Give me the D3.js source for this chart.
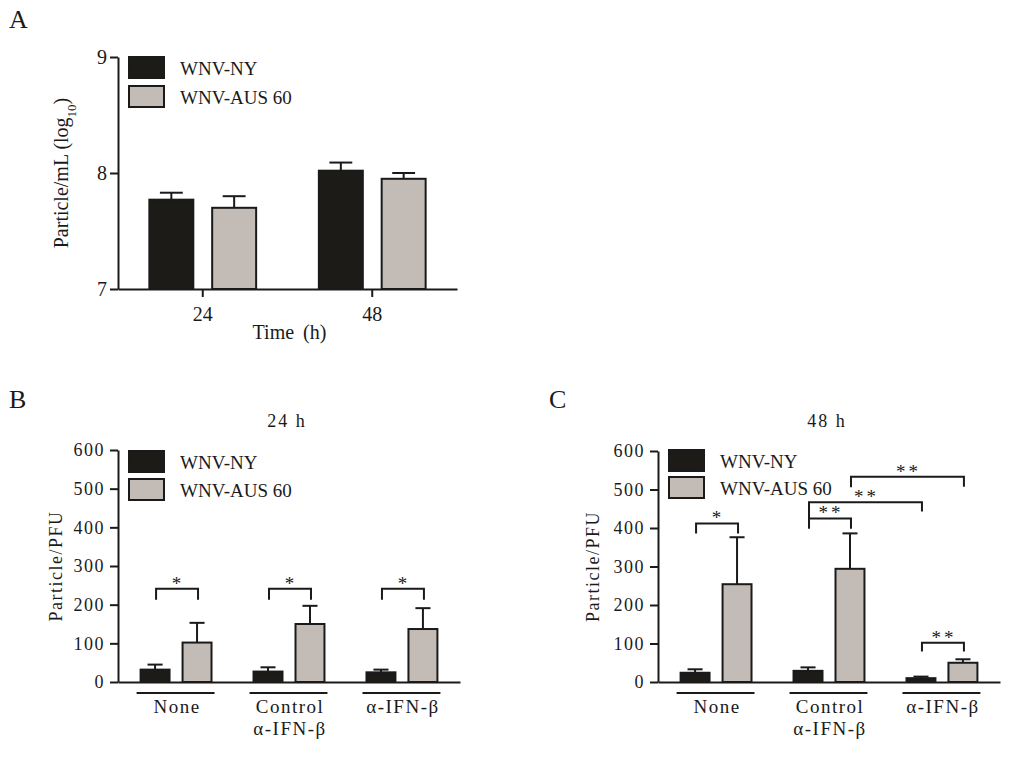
<!DOCTYPE html>
<html>
<head>
<meta charset="utf-8">
<script src="https://cdn.jsdelivr.net/npm/d3@7"></script>
<style>
  body { margin: 0; background: #fff; }
  text { font-family: "Liberation Serif", "Times New Roman", serif; fill: #1a1a1a; }
</style>
</head>
<body>
<script>
// data
var seriesNames = ['WNV-NY', 'WNV-AUS 60'];
var seriesColors = ['#1c1b18', '#c3bbb6'];

// panel A: particle/mL (log10) by time
var timeLabels = ['24', '48'];
var logNY = [7.77, 8.02];
var logNYErr = [0.06, 0.07];
var logAUS = [7.70, 7.95];
var logAUSErr = [0.10, 0.05];
var logTicks = [7, 8, 9];

// panels B and C: particle/PFU by treatment
var treatments = ['None', 'Control\nα-IFN-β', 'α-IFN-β'];
var pfuTicks = [0, 100, 200, 300, 400, 500, 600];

var pfu24NY = [32, 27, 25];
var pfu24NYErr = [13, 11, 7];
var pfu24AUS = [102, 150, 137];
var pfu24AUSErr = [51, 47, 54];

var pfu48NY = [24, 29, 10];
var pfu48NYErr = [9, 9, 4];
var pfu48AUS = [254, 294, 50];
var pfu48AUSErr = [122, 92, 9];

// significance brackets: [group, series] -> [group, series], bracket top, leg ends (data units)
var sig24 = [
  { from: [0, 0], to: [0, 1], top: 241, legs: [213, 213], label: '*' },
  { from: [1, 0], to: [1, 1], top: 241, legs: [213, 213], label: '*' },
  { from: [2, 0], to: [2, 1], top: 241, legs: [213, 213], label: '*' }
];
var sig48 = [
  { from: [0, 0], to: [0, 1], top: 412, legs: [386, 386], label: '*' },
  { from: [1, 0], to: [1, 1], top: 425, legs: [398, 398], label: '**' },
  { from: [1, 0], to: [2, 0], top: 467, legs: [425, 443], label: '**' },
  { from: [1, 1], to: [2, 1], top: 533, legs: [506, 507], label: '**' },
  { from: [2, 0], to: [2, 1], top: 102, legs: [79, 79], label: '**' }
];

// ----------------------------------------------------------------------------
var svg = d3.select('body').append('svg')
  .attr('width', 1024)
  .attr('height', 762);

function drawPanel(cfg) {
  var g = svg.append('g');

  var x0 = d3.scaleBand()
    .domain(cfg.groups)
    .range(cfg.xRange)
    .paddingInner(cfg.padIn)
    .paddingOuter(cfg.padOut);

  var x1 = d3.scaleBand()
    .domain(d3.range(seriesNames.length))
    .range([0, x0.bandwidth()])
    .paddingInner(cfg.barPad);

  var y = d3.scaleLinear()
    .domain(cfg.yDomain)
    .range(cfg.yRange);

  var rows = [];
  cfg.groups.forEach(function (grp, i) {
    cfg.values.forEach(function (vals, s) {
      rows.push({ g: grp, s: s, v: vals[i], e: cfg.errors[s][i] });
    });
  });

  var base = cfg.yDomain[0];

  // error bars (upper only)
  var eb = g.selectAll('.err').data(rows).enter().append('g')
    .attr('stroke', '#1a1a1a')
    .attr('stroke-width', 2);
  eb.append('line')
    .attr('x1', function (d) { return x0(d.g) + x1(d.s) + x1.bandwidth() / 2; })
    .attr('x2', function (d) { return x0(d.g) + x1(d.s) + x1.bandwidth() / 2; })
    .attr('y1', function (d) { return y(d.v); })
    .attr('y2', function (d) { return y(d.v + d.e); });
  eb.append('line')
    .attr('x1', function (d) { return x0(d.g) + x1(d.s) + x1.bandwidth() * 0.24; })
    .attr('x2', function (d) { return x0(d.g) + x1(d.s) + x1.bandwidth() * 0.76; })
    .attr('y1', function (d) { return y(d.v + d.e); })
    .attr('y2', function (d) { return y(d.v + d.e); });

  // bars
  g.selectAll('.bar').data(rows).enter().append('rect')
    .attr('x', function (d) { return x0(d.g) + x1(d.s); })
    .attr('y', function (d) { return y(d.v); })
    .attr('width', x1.bandwidth())
    .attr('height', function (d) { return y(base) - y(d.v); })
    .style('fill', function (d) { return seriesColors[d.s]; })
    .style('stroke', '#1a1a1a')
    .style('stroke-width', 2);

  // y axis
  var yAxis = g.append('g')
    .attr('transform', 'translate(' + cfg.xRange[0] + ',0)')
    .call(d3.axisLeft(y).tickValues(cfg.yTicks).tickFormat(d3.format('d'))
      .tickSize(8).tickSizeOuter(0).tickPadding(cfg.tickPad));
  yAxis.select('.domain').attr('stroke', '#1a1a1a').attr('stroke-width', 2);
  yAxis.selectAll('.tick line').attr('stroke', '#1a1a1a').attr('stroke-width', 2);
  yAxis.selectAll('text')
    .style('font-family', '"Liberation Serif", serif')
    .style('font-size', cfg.tickFont + 'px')
    .style('letter-spacing', cfg.tickSpacing + 'px')
    .attr('fill', '#1a1a1a');

  // x axis
  var xAxis = g.append('g')
    .attr('transform', 'translate(0,' + y(base) + ')')
    .call(d3.axisBottom(x0).tickSize(cfg.xTicks ? 8 : 0).tickSizeOuter(0).tickPadding(10));
  xAxis.select('.domain').attr('stroke', '#1a1a1a').attr('stroke-width', 2);
  xAxis.selectAll('.tick line').attr('stroke', '#1a1a1a').attr('stroke-width', 2);
  xAxis.selectAll('text')
    .style('font-family', '"Liberation Serif", serif')
    .style('font-size', '20px')
    .attr('fill', '#1a1a1a')
    .style('display', cfg.xTicks ? null : 'none');

  // legend
  var leg = g.selectAll('.leg').data(seriesNames).enter().append('g')
    .attr('transform', function (d, i) {
      return 'translate(' + (cfg.xRange[0] + 11) + ',' + (cfg.legendTop + i * cfg.legendStep) + ')';
    });
  leg.append('rect')
    .attr('width', 35)
    .attr('height', 21)
    .style('fill', function (d, i) { return seriesColors[i]; })
    .style('stroke', '#1a1a1a')
    .style('stroke-width', 2);
  leg.append('text')
    .attr('x', 51)
    .attr('y', 18)
    .style('font-size', '19px')
    .text(function (d) { return d; });

  // y label
  var yl = g.append('text')
    .attr('transform', 'translate(' + cfg.yLabelX + ',' + d3.mean(cfg.yRange) + ') rotate(-90)')
    .attr('text-anchor', 'middle')
    .style('font-size', cfg.yLabelFont + 'px')
    .style('letter-spacing', cfg.yLabelSpacing + 'px');
  cfg.yLabel.forEach(function (part) {
    var t = yl.append('tspan').text(part.t);
    if (part.sub) t.attr('baseline-shift', 'sub').style('font-size', '13px');
  });

  // panel letter and title
  g.append('text')
    .attr('x', cfg.letterX)
    .attr('y', cfg.letterY)
    .style('font-size', '26px')
    .text(cfg.letter);
  if (cfg.title) {
    g.append('text')
      .attr('x', d3.mean(cfg.xRange) - 2)
      .attr('y', cfg.titleY)
      .attr('text-anchor', 'middle')
      .style('font-size', '18px')
      .style('letter-spacing', '2px')
      .text(cfg.title);
  }

  if (cfg.xLabel) {
    g.append('text')
      .attr('x', x0(cfg.groups[0]) + (x0(cfg.groups[1]) + x0.bandwidth() - x0(cfg.groups[0])) / 2 + 2)
      .attr('y', y(base) + 50)
      .attr('text-anchor', 'middle')
      .style('font-size', '20px')
      .style('word-spacing', '4px')
      .text(cfg.xLabel);
  }

  // group underlines and labels
  if (cfg.groupLabels) {
    var gl = g.selectAll('.grp').data(cfg.groups).enter().append('g');
    gl.append('line')
      .attr('x1', function (d) { return x0(d) - 4; })
      .attr('x2', function (d) { return x0(d) + x0.bandwidth() + 3; })
      .attr('y1', y(base) + 11)
      .attr('y2', y(base) + 11)
      .attr('stroke', '#1a1a1a')
      .attr('stroke-width', 2);
    gl.each(function (d) {
      var lines = d.split('\n');
      var sel = d3.select(this);
      lines.forEach(function (ln, k) {
        sel.append('text')
          .attr('x', x0(d) + x0.bandwidth() / 2 + 1)
          .attr('y', y(base) + 31 + k * 22)
          .attr('text-anchor', 'middle')
          .style('font-size', '19px')
          .style('letter-spacing', '1.5px')
          .text(ln);
      });
    });
  }

  // significance brackets
  if (cfg.sig) {
    var cx = function (p) {
      return x0(cfg.groups[p[0]]) + x1(p[1]) + x1.bandwidth() / 2 + 1;
    };
    var br = g.selectAll('.sig').data(cfg.sig).enter().append('g');
    br.append('path')
      .attr('d', function (d) {
        return 'M' + cx(d.from) + ',' + y(d.legs[0]) +
          'V' + y(d.top) + 'H' + cx(d.to) + 'V' + y(d.legs[1]);
      })
      .attr('fill', 'none')
      .attr('stroke', '#1a1a1a')
      .attr('stroke-width', 2);
    br.append('text')
      .attr('x', function (d) { return (cx(d.from) + cx(d.to)) / 2 + 1; })
      .attr('y', function (d) { return y(d.top) + 1; })
      .attr('text-anchor', 'middle')
      .style('font-size', '19px')
      .style('letter-spacing', '3px')
      .text(function (d) { return d.label; });
  }
}

// ----------------------------------------------------------------------------
// A
drawPanel({
  groups: timeLabels, values: [logNY, logAUS], errors: [logNYErr, logAUSErr],
  xRange: [118, 457], padIn: 0.37, padOut: 0.185, barPad: 0.3,
  yDomain: [7, 9], yRange: [289, 57], yTicks: logTicks,
  tickFont: 20, tickSpacing: 0, tickPad: 3, xTicks: true,
  legendTop: 57, legendStep: 29,
  yLabel: [{ t: 'Particle/mL (log' }, { t: '10', sub: true }, { t: ')' }],
  yLabelX: 68, yLabelSpacing: 0, yLabelFont: 20,
  letter: 'A', letterX: 9, letterY: 28, xLabel: 'Time (h)'
});

// B
drawPanel({
  groups: treatments, values: [pfu24NY, pfu24AUS], errors: [pfu24NYErr, pfu24AUSErr],
  xRange: [118, 460], padIn: 0.372, padOut: 0.2, barPad: 0.31,
  yDomain: [0, 600], yRange: [682, 450], yTicks: pfuTicks,
  tickFont: 18, tickSpacing: 1.5, tickPad: 5, xTicks: false,
  legendTop: 451, legendStep: 28,
  yLabel: [{ t: 'Particle/PFU' }], yLabelX: 62, yLabelSpacing: 1.5, yLabelFont: 18,
  letter: 'B', letterX: 9, letterY: 408, title: '24 h', titleY: 427,
  groupLabels: true, sig: sig24
});

// C
drawPanel({
  groups: treatments, values: [pfu48NY, pfu48AUS], errors: [pfu48NYErr, pfu48AUSErr],
  xRange: [658, 1000], padIn: 0.372, padOut: 0.2, barPad: 0.31,
  yDomain: [0, 600], yRange: [682, 451], yTicks: pfuTicks,
  tickFont: 18, tickSpacing: 1.5, tickPad: 5, xTicks: false,
  legendTop: 450, legendStep: 27,
  yLabel: [{ t: 'Particle/PFU' }], yLabelX: 599, yLabelSpacing: 1.5, yLabelFont: 18,
  letter: 'C', letterX: 549, letterY: 408, title: '48 h', titleY: 427,
  groupLabels: true, sig: sig48
});
</script>
</body>
</html>
